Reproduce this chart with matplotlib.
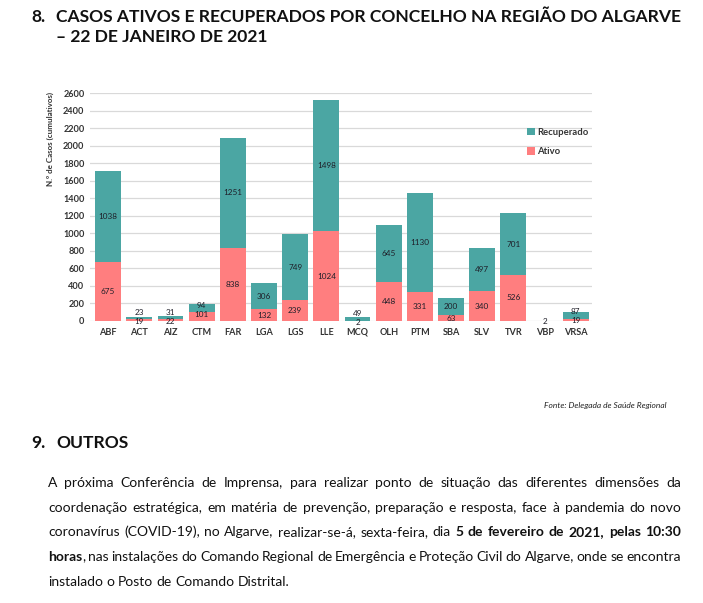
import matplotlib
matplotlib.use("Agg")
import matplotlib.pyplot as plt
import numpy as np

W, H = 703, 603

concelhos = ["ABF", "ACT", "AIZ", "CTM", "FAR", "LGA", "LGS", "LLE", "MCQ",
             "OLH", "PTM", "SBA", "SLV", "TVR", "VBP", "VRSA"]
ativo = [675, 19, 22, 101, 838, 132, 239, 1024, 2, 448, 331, 63, 340, 526, 0, 19]
recuperado = [1038, 23, 31, 94, 1251, 306, 749, 1498, 49, 645, 1130, 200, 497, 701, 2, 87]
yticks = list(range(0, 2601, 200))

titulo1 = "CASOS ATIVOS E RECUPERADOS POR CONCELHO NA REGIÃO DO ALGARVE"
titulo2 = "– 22 DE JANEIRO DE 2021"
fonte = "Fonte: Delegada de Saúde Regional"

# paragraph lines, each a list of (text, bold) runs
paragrafo = [
    [("A próxima Conferência de Imprensa, para realizar ponto de situação das diferentes dimensões da", False)],
    [("coordenação estratégica, em matéria de prevenção, preparação e resposta, face à pandemia do novo", False)],
    [("coronavírus (COVID-19), no Algarve, realizar-se-á, sexta-feira, dia", False),
     ("5 de fevereiro de 2021, pelas 10:30", True)],
    [("horas", True), (", nas instalações do Comando Regional de Emergência e Proteção Civil do Algarve, onde se encontra", False)],
    [("instalado o Posto de Comando Distrital.", False)],
]

cor_rec = "#4BA6A3"
cor_ati = "#FF7E7F"
FAM = ["Lato", "DejaVu Sans"]
plt.rcParams["font.family"] = FAM


def fx(px):
    return px / W


def fy(py):
    return 1 - py / H


fig = plt.figure(figsize=(W / 100, H / 100), dpi=100)
fig.patch.set_facecolor("white")
renderer = fig.canvas.get_renderer()


def width_px(s, size, weight="normal"):
    t = fig.text(0, 0, s, fontsize=size, fontweight=weight)
    w = t.get_window_extent(renderer).width
    t.remove()
    return w


# chart
ax = fig.add_axes([fx(90), fy(321), fx(592) - fx(90), (321 - 93) / H])
x = np.arange(len(concelhos))
ax.bar(x, ativo, width=0.83, color=cor_ati, label="Ativo", zorder=3)
ax.bar(x, recuperado, width=0.83, bottom=ativo, color=cor_rec, label="Recuperado", zorder=3)
ax.set_xlim(-0.58, 15.52)
ax.set_ylim(0, 2600)
ax.set_yticks(yticks)
ax.set_xticks(x)
ax.set_xticklabels(concelhos)
ax.grid(axis="y", color="#D9D9D9", linewidth=0.9, zorder=0)
for s in ax.spines.values():
    s.set_visible(False)
ax.tick_params(length=0, labelsize=6.6, colors="#333333", pad=4)
for lab in ax.get_xticklabels() + ax.get_yticklabels():
    lab.set_fontweight("bold")
ax.tick_params(axis="x", pad=5)

for i, (a, r) in enumerate(zip(ativo, recuperado)):
    ya = a / 2
    yr = a + r / 2
    if yr - ya < 100:
        mid = (ya + yr) / 2
        ya = mid - 30
        yr = mid + 75
    if r < 10:
        yr = 0
    if a > 0:
        ax.text(i, ya, str(a), ha="center", va="center", fontsize=5.9,
                color="#1E1E28", zorder=4)
    if r > 0:
        ax.text(i, yr, str(r), ha="center", va="center", fontsize=5.9,
                color="#1E1E28", zorder=4)

handles, labels = ax.get_legend_handles_labels()
leg = fig.legend(handles[::-1], labels[::-1], loc="upper left",
                 bbox_to_anchor=(fx(527), fy(128)), frameon=False,
                 prop={"size": 6.8, "weight": "bold"}, handlelength=0.8,
                 handleheight=0.8, handletextpad=0.3, labelspacing=1.1,
                 borderaxespad=0, borderpad=0)
for t in leg.get_texts():
    t.set_color("#333333")

fig.text(fx(50), fy(92), "N.º de Casos (cumulativos)", rotation=90, ha="center",
         va="top", fontsize=5.8, fontweight="bold", color="#333333")

# heading
tsize = 12 * 627 / width_px(titulo1, 12, "bold")
fig.text(fx(31), fy(22), "8.", fontsize=tsize, fontweight="bold", va="baseline", color="#111111")
fig.text(fx(56), fy(22), titulo1, fontsize=tsize, fontweight="bold", va="baseline", color="#111111")
fig.text(fx(56), fy(42), titulo2, fontsize=tsize, fontweight="bold", va="baseline", color="#111111")

fig.text(fx(667), fy(408), fonte, ha="right", va="baseline", fontsize=6,
         style="italic", color="#222222")

fig.text(fx(31), fy(448), "9.", fontsize=tsize, fontweight="bold", va="baseline", color="#111111")
fig.text(fx(56), fy(448), "OUTROS", fontsize=tsize, fontweight="bold", va="baseline", color="#111111")

# justified paragraph
psize = 10 * 243 / width_px(paragrafo[-1][0][0], 10)
left, right = 48, 681
base0, step = 487, 24.7
for li, runs in enumerate(paragrafo):
    words = []
    for text, bold in runs:
        parts = text.split(" ")
        for k, p in enumerate(parts):
            if p == "":
                continue
            if k == 0 and p.startswith(",") and words:
                # punctuation glued to previous word
                words[-1][0].append((p, bold))
            else:
                words.append([[(p, bold)]])
    widths = []
    for w in words:
        widths.append(sum(width_px(p, psize, "bold" if b else "normal") for p, b in w[0]))
    natural_gap = width_px("a b", psize) - width_px("ab", psize)
    last = li == len(paragrafo) - 1
    if last:
        gap = natural_gap
    else:
        gap = (right - left - sum(widths)) / (len(words) - 1)
    xpos = left
    yb = base0 + li * step
    for w, wd in zip(words, widths):
        xp = xpos
        for p, b in w[0]:
            fig.text(fx(xp), fy(yb), p, fontsize=psize, va="baseline",
                     fontweight="bold" if b else "normal", color="#111111")
            xp += width_px(p, psize, "bold" if b else "normal")
        xpos += wd + gap

fig.savefig("out.png", dpi=100, facecolor="white")
